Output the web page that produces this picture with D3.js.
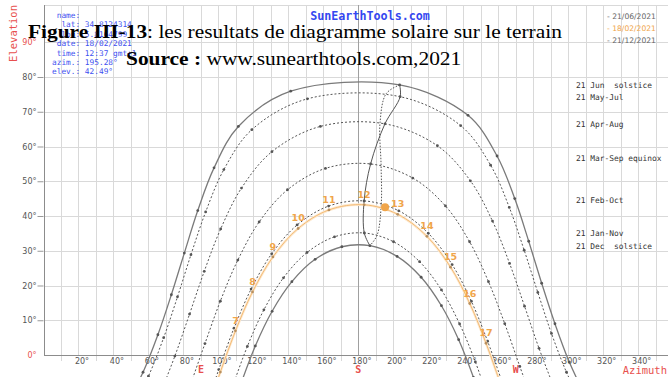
<!DOCTYPE html>
<html>
<head>
<meta charset="utf-8">
<script src="https://cdn.jsdelivr.net/npm/d3@7"></script>
<style>
  html, body { margin: 0; padding: 0; background: #fff; }
  svg { display: block; }
</style>
</head>
<body>
<svg id="chart" width="668" height="377"></svg>
<script>
// Sun path diagram, lat 34.81° N — hourly sun positions as [azimuth°, elevation°]
const junSolstice = [[46.9,-14.66],[56.9,-4.96],[65.4,5.83],[73.1,17.34],[80.5,29.32],[88.2,41.57],[97.5,53.85],[111.4,65.77],[141.3,75.91],[203.6,77.72],[242.7,68.96],[259.3,57.27],[269.4,45.01],[277.4,32.73],[284.8,20.65],[292.4,8.99],[300.6,-2.03],[310.1,-12.1]];
const mayJul = [[50.0,-16.2],[60.0,-6.11],[68.7,4.98],[76.6,16.73],[84.3,28.86],[92.7,41.16],[103.1,53.35],[119.1,64.84],[150.9,73.72],[203.9,74.33],[238.5,66.0],[255.6,54.63],[266.3,42.47],[274.8,30.17],[282.6,18.01],[290.4,6.21],[299.0,-4.97],[308.8,-15.2]];
const aprAug = [[66.1,-11.92],[75.1,-0.32],[83.5,11.78],[91.9,24.07],[101.3,36.29],[113.2,48.04],[130.6,58.51],[158.3,65.78],[195.2,66.52],[225.2,60.21],[244.05,50.13],[256.7,38.53],[266.45,26.36],[275.0,14.06],[283.3,1.91],[292.2,-9.81]];
const marSep = [[83.7,-9.01],[92.3,3.28],[101.1,15.5],[111.1,27.33],[123.3,38.29],[139.5,47.55],[161.2,53.7],[187.0,54.98],[211.1,50.92],[229.8,42.89],[243.6,32.59],[254.4,21.1],[263.7,9.01],[272.3,-3.28],[281.1,-15.5]];
const febOct = [[91.9,-16.4],[100.2,-4.2],[108.9,7.71],[118.7,18.97],[130.45,29.12],[145.0,37.42],[163.0,42.85],[183.3,44.34],[203.1,41.5],[220.0,35.02],[233.6,26.03],[244.6,15.47],[253.9,3.95],[262.4,-8.09]];
const janNov = [[108.2,-8.91],[116.55,2.48],[126.0,13.0],[137.2,22.22],[150.65,29.49],[166.4,34.01],[183.4,35.11],[200.1,32.59],[215.0,26.86],[227.5,18.72],[237.9,8.92],[246.9,-1.99],[254.9,-13.6]];
const decSolstice = [[112.8,-8.38],[121.1,2.6],[130.7,12.58],[142.0,21.1],[155.3,27.53],[170.6,31.15],[186.6,31.45],[202.15,28.37],[215.9,22.38],[227.5,14.18],[237.35,4.41],[245.8,-6.42],[253.5,-17.97]];

// 18/02/2021: clock hour and position
const feb18Hours = [5,6,7,8,9,10,11,12,13,14,15,16,17,18];
const feb18 = [[92.8,-17.1],[101.1,-4.9],[109.75,6.96],[119.5,18.16],[131.15,28.21],[145.6,36.41],[163.2,41.75],[183.3,43.23],[202.5,40.49],[219.2,34.15],[232.7,25.28],[243.7,14.82],[253.0,3.38],[261.5,-8.62]];
const sunNow = [195.28, 42.49];

// Analemma of the same clock hour through the year (21st of each month)
const analemmaDecJun = [[186.6,31.45],[183.4,35.11],[183.3,44.34],[187.0,54.98],[195.2,66.52],[203.9,74.33],[203.6,77.72]];
const analemmaJunDec = [[203.6,77.72],[195.9,75.2],[192.4,66.84],[193.0,54.48],[193.1,43.48],[190.7,34.47],[186.6,31.45]];

// Axis ticks and texts
const xTicks = [20,40,60,80,100,120,140,160,180,200,220,240,260,280,300,320,340];
const yTicks = [10,20,30,40,50,60,70,80];
const compass = [["E",90],["S",180],["W",270]];
const curveNames = ["21 Jun  solstice","21 May-Jul","21 Apr-Aug","21 Mar-Sep equinox","21 Feb-Oct","21 Jan-Nov","21 Dec  solstice"];
const legendDates = ["- 21/06/2021","- 18/02/2021","- 21/12/2021"];
const infoLines = [" name:","  lat: 34.8124314","  lon: 5.8164799"," date: 18/02/2021"," time: 12:37 gmt+1","azim.: 195.28°","elev.: 42.49°"];

const W = 668, H = 377;
const svg = d3.select("#chart");
const x = d3.scaleLinear().domain([0, 360]).range([43.5, 673.2]);
const y = d3.scaleLinear().domain([0, 80]).range([355, 77]);
const plotTop = 5;
const mono = "DejaVu Sans Mono";
const sans = "DejaVu Sans";
const red = "#e8504e";
const orange = "#f0a54a";

svg.append("rect").attr("width", W).attr("height", H).attr("fill", "#fff");

// grid
const px = v => Math.round(v) + 0.5;
const grid = svg.append("g").attr("stroke", "#d9d9d9").attr("stroke-width", 1).attr("shape-rendering", "crispEdges");
grid.selectAll("line.v").data(d3.range(10, 360, 10)).join("line")
  .attr("class", "v")
  .attr("x1", d => px(x(d))).attr("x2", d => px(x(d)))
  .attr("y1", plotTop).attr("y2", d => d % 20 ? y(0) + 6 : y(0));
grid.selectAll("line.h").data(d3.range(10, 100, 10)).join("line")
  .attr("class", "h")
  .attr("x1", x(0)).attr("x2", W)
  .attr("y1", d => px(y(d))).attr("y2", d => px(y(d)));
grid.append("line").attr("x1", x(0)).attr("x2", W).attr("y1", plotTop + 0.5).attr("y2", plotTop + 0.5);

// frame lines
const frame = svg.append("g").attr("stroke", "#8c8c8c").attr("stroke-width", 1).attr("shape-rendering", "crispEdges");
frame.append("line").attr("x1", px(x(0))).attr("x2", px(x(0))).attr("y1", plotTop).attr("y2", y(0));
frame.append("line").attr("x1", x(0)).attr("x2", W).attr("y1", px(y(0))).attr("y2", px(y(0)));
frame.append("line").attr("x1", px(x(180))).attr("x2", px(x(180))).attr("y1", plotTop).attr("y2", y(0))
  .attr("stroke", "#a0a0a0");

// axes
const gx = svg.append("g").attr("transform", `translate(0,${y(0)})`)
  .call(d3.axisBottom(x).tickValues(xTicks).tickSize(0).tickPadding(3).tickFormat(d => d + "°"));
gx.select(".domain").remove();
gx.selectAll("text").attr("fill", "#555").attr("font-family", sans).attr("font-size", 8).attr("dx", 3);

const gy = svg.append("g").attr("transform", `translate(${x(0)},0)`)
  .call(d3.axisLeft(y).tickValues(yTicks).tickSize(6).tickPadding(1).tickFormat(d => d + "°"));
gy.select(".domain").remove();
gy.selectAll("line").attr("stroke", "#999");
gy.selectAll("text").attr("fill", "#555").attr("font-family", sans).attr("font-size", 8);

[[0, "0°"], [90, "90°"]].forEach(([v, t]) => {
  svg.append("text").attr("x", x(0) - 7).attr("y", y(v)).attr("dy", "0.32em")
    .attr("text-anchor", "end").attr("font-family", sans).attr("font-size", 8)
    .attr("fill", red).text(t);
});

svg.append("text").attr("transform", `translate(17,${plotTop}) rotate(-90)`)
  .attr("text-anchor", "end").attr("font-family", mono).attr("font-size", 10.5)
  .attr("fill", red).text("Elevation");
svg.append("text").attr("x", W - 1).attr("y", 374).attr("text-anchor", "end")
  .attr("font-family", mono).attr("font-size", 10.5).attr("fill", red).text("Azimuth");
svg.selectAll("text.compass").data(compass).join("text")
  .attr("class", "compass")
  .attr("x", d => x(d[1])).attr("y", 373).attr("text-anchor", "middle")
  .attr("font-family", mono).attr("font-weight", "bold").attr("font-size", 10)
  .attr("fill", red).text(d => d[0]);

// sun paths
const line = d3.line().x(d => x(d[0])).y(d => y(d[1])).curve(d3.curveCatmullRom.alpha(0.5));
const solid = [junSolstice, decSolstice];
const dotted = [mayJul, aprAug, marSep, febOct, janNov];

svg.append("g").selectAll("path").data(dotted).join("path")
  .attr("d", line).attr("fill", "none").attr("stroke", "#555")
  .attr("stroke-width", 1).attr("stroke-dasharray", "2,2");
svg.append("g").selectAll("path").data(solid).join("path")
  .attr("d", line).attr("fill", "none").attr("stroke", "#7a7a7a").attr("stroke-width", 1.3);

// analemma
svg.append("path").datum(analemmaDecJun).attr("d", line).attr("fill", "none")
  .attr("stroke", "#555").attr("stroke-width", 1);
svg.append("path").datum(analemmaJunDec).attr("d", line).attr("fill", "none")
  .attr("stroke", "#555").attr("stroke-width", 1).attr("stroke-dasharray", "1.5,1.5");

// hourly markers
const dots = svg.append("g").attr("fill", "#555");
[...solid, ...dotted].forEach(s => {
  dots.selectAll(null).data(s).join("circle")
    .attr("cx", d => x(d[0])).attr("cy", d => y(d[1])).attr("r", 1.4);
});

// 18/02/2021 path
svg.append("path").datum(feb18).attr("d", line).attr("fill", "none")
  .attr("stroke", "#fde9cf").attr("stroke-width", 2.6);
svg.append("path").datum(feb18).attr("d", line).attr("fill", "none")
  .attr("stroke", "#f2b46a").attr("stroke-width", 0.9);
svg.append("g").selectAll("circle").data(feb18).join("circle")
  .attr("cx", d => x(d[0])).attr("cy", d => y(d[1])).attr("r", 1.4).attr("fill", "#b89060");
const hourLabelled = feb18.map((d, i) => ({ p: d, h: feb18Hours[i] })).filter(d => d.h >= 7 && d.h <= 17);
svg.append("g").selectAll("text").data(hourLabelled).join("text")
  .attr("x", d => x(d.p[0])).attr("y", d => y(d.p[1]) - 7)
  .attr("text-anchor", "middle").attr("font-family", sans).attr("font-weight", "bold")
  .attr("font-size", 9.5).attr("fill", orange).text(d => d.h);
svg.append("circle").attr("cx", x(sunNow[0])).attr("cy", y(sunNow[1])).attr("r", 4).attr("fill", orange);

// curve names on the right
const nameElev = [77.7, 74.2, 66.2, 56.5, 44.5, 35.0, 31.3];
svg.append("g").selectAll("text").data(curveNames).join("text")
  .attr("x", 576).attr("y", (d, i) => y(nameElev[i])).attr("dy", "0.32em")
  .attr("font-family", mono).attr("font-size", 7.9).attr("fill", "#333")
  .style("white-space", "pre").text(d => d);

// header texts
svg.append("text").attr("x", 370).attr("y", 20).attr("text-anchor", "middle")
  .attr("font-family", mono).attr("font-weight", "bold").attr("font-size", 11.7)
  .attr("fill", "#3447f0").text("SunEarthTools.com");

svg.append("g").selectAll("text").data(infoLines).join("text")
  .attr("x", 52).attr("y", (d, i) => 18 + i * 9.4)
  .attr("font-family", mono).attr("font-size", 7.8).attr("fill", "#4050f0")
  .style("white-space", "pre").text(d => d);

const legendColors = ["#666", orange, "#666"];
svg.append("g").selectAll("text").data(legendDates).join("text")
  .attr("x", 607).attr("y", (d, i) => 19 + i * 12)
  .attr("font-family", sans).attr("font-size", 7.6)
  .attr("fill", (d, i) => legendColors[i]).text(d => d);

// caption, stretched horizontally
const title = svg.append("text").attr("transform", "translate(28,38) scale(1.19,1)")
  .attr("font-family", "Liberation Serif").attr("font-size", 18).attr("fill", "#000");
title.append("tspan").attr("font-weight", "bold").text("Figure III-13");
title.append("tspan").text(": les resultats de diagramme solaire sur le terrain");

const src = svg.append("text").attr("transform", "translate(126,65) scale(1.19,1)")
  .attr("font-family", "Liberation Serif").attr("font-size", 18).attr("fill", "#000")
  .style("white-space", "pre");
src.append("tspan").attr("font-weight", "bold").text("Source :");
src.append("tspan").text(" www.sunearthtools.com,2021");
</script>
</body>
</html>
